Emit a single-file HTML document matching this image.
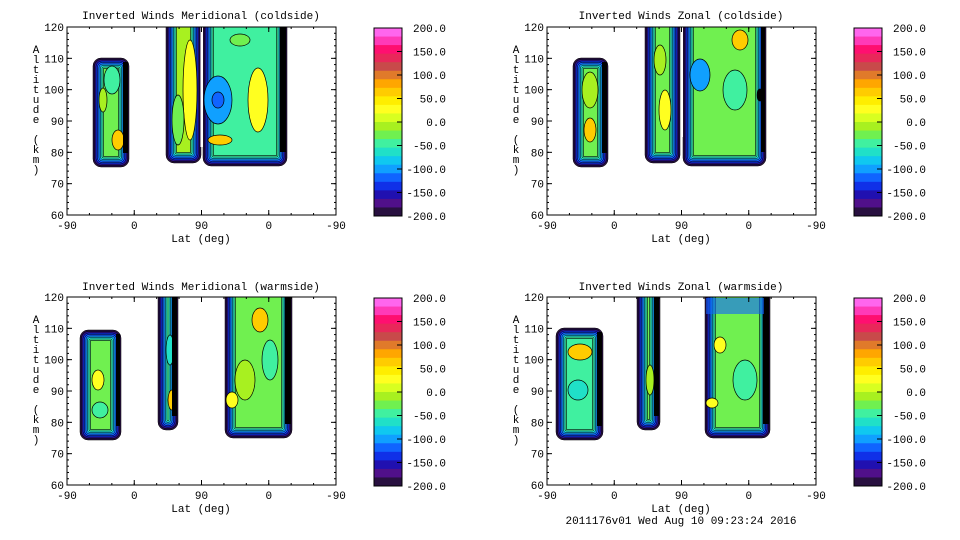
<!DOCTYPE html>
<html><head><meta charset="utf-8"><style>
html,body{margin:0;padding:0;background:#fff;width:960px;height:540px;overflow:hidden}
svg text{font-family:"Liberation Mono",monospace;font-size:11px;fill:#000}
</style></head><body>
<svg id="s" width="960" height="540" xmlns="http://www.w3.org/2000/svg"></svg>
<script>
(function(){
var S=document.getElementById('s'),h='';
var cb=['#ff66ee','#ff3ab8','#ff0f70','#e8285a','#c84a4a','#e07a2a','#ffa600','#ffcc00','#ffee00','#ffff20','#d8ff20','#a8f020','#70f050','#40f0a0','#20e0c8','#10c8f0','#10a0ff','#1064ff','#1030e8','#2010b0','#50108a','#281040'];
var rings=['#281040','#2a1090','#1030e8','#1064ff','#10a0ff','#20e0c8','#40f0a0'];
function region(x1,y1,x2,y2,inner,blobs,blackR){
  for(var i=0;i<rings.length;i++){
    var d=i*1.5,r=Math.max(8-i*1.1,1);
    h+='<rect x="'+(x1+d)+'" y="'+(y1+d)+'" width="'+(x2-x1-2*d)+'" height="'+(y2-y1-2*d)+'" rx="'+r+'" fill="'+rings[i]+'" stroke="#000" stroke-width="0.5"/>';
  }
  var d=rings.length*1.5;
  h+='<rect x="'+(x1+d)+'" y="'+(y1+d)+'" width="'+(x2-x1-2*d)+'" height="'+(y2-y1-2*d)+'" fill="'+inner+'" stroke="#000" stroke-width="0.6"/>';
  (blobs||[]).forEach(function(b){h+='<ellipse cx="'+b[0]+'" cy="'+b[1]+'" rx="'+b[2]+'" ry="'+b[3]+'" fill="'+b[4]+'" stroke="#000" stroke-width="0.7"/>';});
  if(blackR)h+='<rect x="'+(x2-blackR-1)+'" y="'+(y1+4)+'" width="'+blackR+'" height="'+(y2-y1-18)+'" fill="#000"/>';
}
function topr(x1,y1,x2,y2,inner,blobs,b){region(x1,y1-20,x2,y2,inner,blobs,b);}
function axes(ox,oy){
  var L=ox+67,R=ox+336,T=oy+27,B=oy+215;
  h+='<rect x="'+L+'" y="'+T+'" width="'+(R-L)+'" height="'+(B-T)+'" fill="none" stroke="#000" stroke-width="1"/>';
  var xl=['-90','0','90','0','-90'];
  for(var i=0;i<5;i++){var x=L+i*(R-L)/4;h+='<line x1="'+x+'" y1="'+B+'" x2="'+x+'" y2="'+(B-5)+'" stroke="#000"/><line x1="'+x+'" y1="'+T+'" x2="'+x+'" y2="'+(T+5)+'" stroke="#000"/>';h+='<text x="'+x+'" y="'+(B+14)+'" text-anchor="middle">'+xl[i]+'</text>';}
  for(var j=0;j<=12;j++){var x=L+j*(R-L)/12;h+='<line x1="'+x+'" y1="'+B+'" x2="'+x+'" y2="'+(B-2)+'" stroke="#000"/><line x1="'+x+'" y1="'+T+'" x2="'+x+'" y2="'+(T+2)+'" stroke="#000"/>';}
  for(var k=0;k<=6;k++){var y=B-k*(B-T)/6;h+='<line x1="'+L+'" y1="'+y+'" x2="'+(L+5)+'" y2="'+y+'" stroke="#000"/><line x1="'+R+'" y1="'+y+'" x2="'+(R-5)+'" y2="'+y+'" stroke="#000"/>';h+='<text x="'+(L-3)+'" y="'+(y+4)+'" text-anchor="end">'+(60+k*10)+'</text>';}
  for(var k=0;k<30;k++){var y=B-k*(B-T)/30;h+='<line x1="'+L+'" y1="'+y+'" x2="'+(L+2)+'" y2="'+y+'" stroke="#000"/><line x1="'+R+'" y1="'+y+'" x2="'+(R-2)+'" y2="'+y+'" stroke="#000"/>';}
  h+='<text x="'+(ox+201)+'" y="'+(B+27)+'" text-anchor="middle">Lat (deg)</text>';
  var yl='Altitude (km)';
  for(var c=0;c<yl.length;c++)h+='<text x="'+(ox+36)+'" y="'+(oy+53+c*10)+'" text-anchor="middle">'+yl[c]+'</text>';
  var cx=ox+374,cw=28,ct=oy+28,cbh=188;
  for(var i=0;i<cb.length;i++)h+='<rect x="'+cx+'" y="'+(ct+i*cbh/cb.length)+'" width="'+cw+'" height="'+(cbh/cb.length+0.5)+'" fill="'+cb[i]+'"/>';
  h+='<rect x="'+cx+'" y="'+ct+'" width="'+cw+'" height="'+cbh+'" fill="none" stroke="#000"/>';
  var lb=['200.0','150.0','100.0','50.0','0.0','-50.0','-100.0','-150.0','-200.0'];
  for(var i=0;i<9;i++){var y=ct+i*cbh/8;if(i>0&&i<8)h+='<line x1="'+(cx+cw-5)+'" y1="'+y+'" x2="'+(cx+cw)+'" y2="'+y+'" stroke="#000"/>';h+='<text x="'+(ox+446)+'" y="'+(y+4)+'" text-anchor="end">'+lb[i]+'</text>';}
}
var G='#70f050',Y='#ffff20',O='#ffcc00',LB='#10a0ff',C='#20e0c8',A='#40f0a0',LG='#a8f020';
region(93,58,129,167,G,[[103,100,4,12,LG],[118,140,6,10,O],[112,80,8,14,A]],5);
topr(166,27,201,163,LG,[[190,90,7,50,Y],[178,120,6,25,G]],0);
topr(203,27,287,166,A,[[218,100,14,24,LB],[218,100,6,8,'#1064ff'],[258,100,10,32,Y],[220,140,12,5,O],[240,40,10,6,G]],6);
h+='<rect x="160" y="0" width="140" height="27" fill="#fff"/>';
h+='<rect x="200.5" y="27" width="2.5" height="120" fill="#fff"/>';
h+='<text x="201" y="19" text-anchor="middle">Inverted Winds Meridional (coldside)</text>';
axes(0,0);
region(573,58,608,167,G,[[590,130,6,12,O],[590,90,8,18,LG]],5);
topr(645,27,680,163,G,[[665,110,6,20,Y],[660,60,6,15,LG]],0);
topr(683,27,766,166,G,[[700,75,10,16,LB],[740,40,8,10,O],[735,90,12,20,A],[760,95,3,6,'#000']],4);
h+='<rect x="640" y="0" width="140" height="27" fill="#fff"/>';
h+='<rect x="680.5" y="27" width="2.5" height="110" fill="#fff"/>';
h+='<text x="681" y="19" text-anchor="middle">Inverted Winds Zonal (coldside)</text>';
axes(480,0);
region(80,330,121,440,G,[[98,380,6,10,Y],[100,410,8,8,A]],4);
topr(158,297,178,430,A,[[172,400,4,10,O],[170,350,4,15,C]],5);
topr(225,297,292,438,G,[[260,320,8,12,O],[245,380,10,20,LG],[232,400,6,8,Y],[270,360,8,20,A]],6);
h+='<rect x="150" y="270" width="160" height="27" fill="#fff"/>';
h+='<rect x="179" y="297" width="45" height="140" fill="#fff"/>';
h+='<text x="201" y="290" text-anchor="middle">Inverted Winds Meridional (warmside)</text>';
axes(0,270);
region(556,328,603,440,A,[[580,352,12,8,O],[578,390,10,10,C]],5);
topr(637,297,660,430,G,[[650,380,4,15,LG]],5);
topr(705,297,770,438,G,[[720,345,6,8,Y],[745,380,12,20,A],[712,403,6,5,Y]],6);
h+='<rect x="630" y="270" width="160" height="27" fill="#fff"/>';
h+='<rect x="661" y="297" width="43" height="140" fill="#fff"/>';
h+='<rect x="706" y="298" width="58" height="16" fill="#1064ff" opacity="0.6"/>';
h+='<text x="681" y="290" text-anchor="middle">Inverted Winds Zonal (warmside)</text>';
axes(480,270);
h+='<text x="681" y="524" text-anchor="middle">2011176v01 Wed Aug 10 09:23:24 2016</text>';
S.innerHTML=h;
})();
</script>
</body></html>
